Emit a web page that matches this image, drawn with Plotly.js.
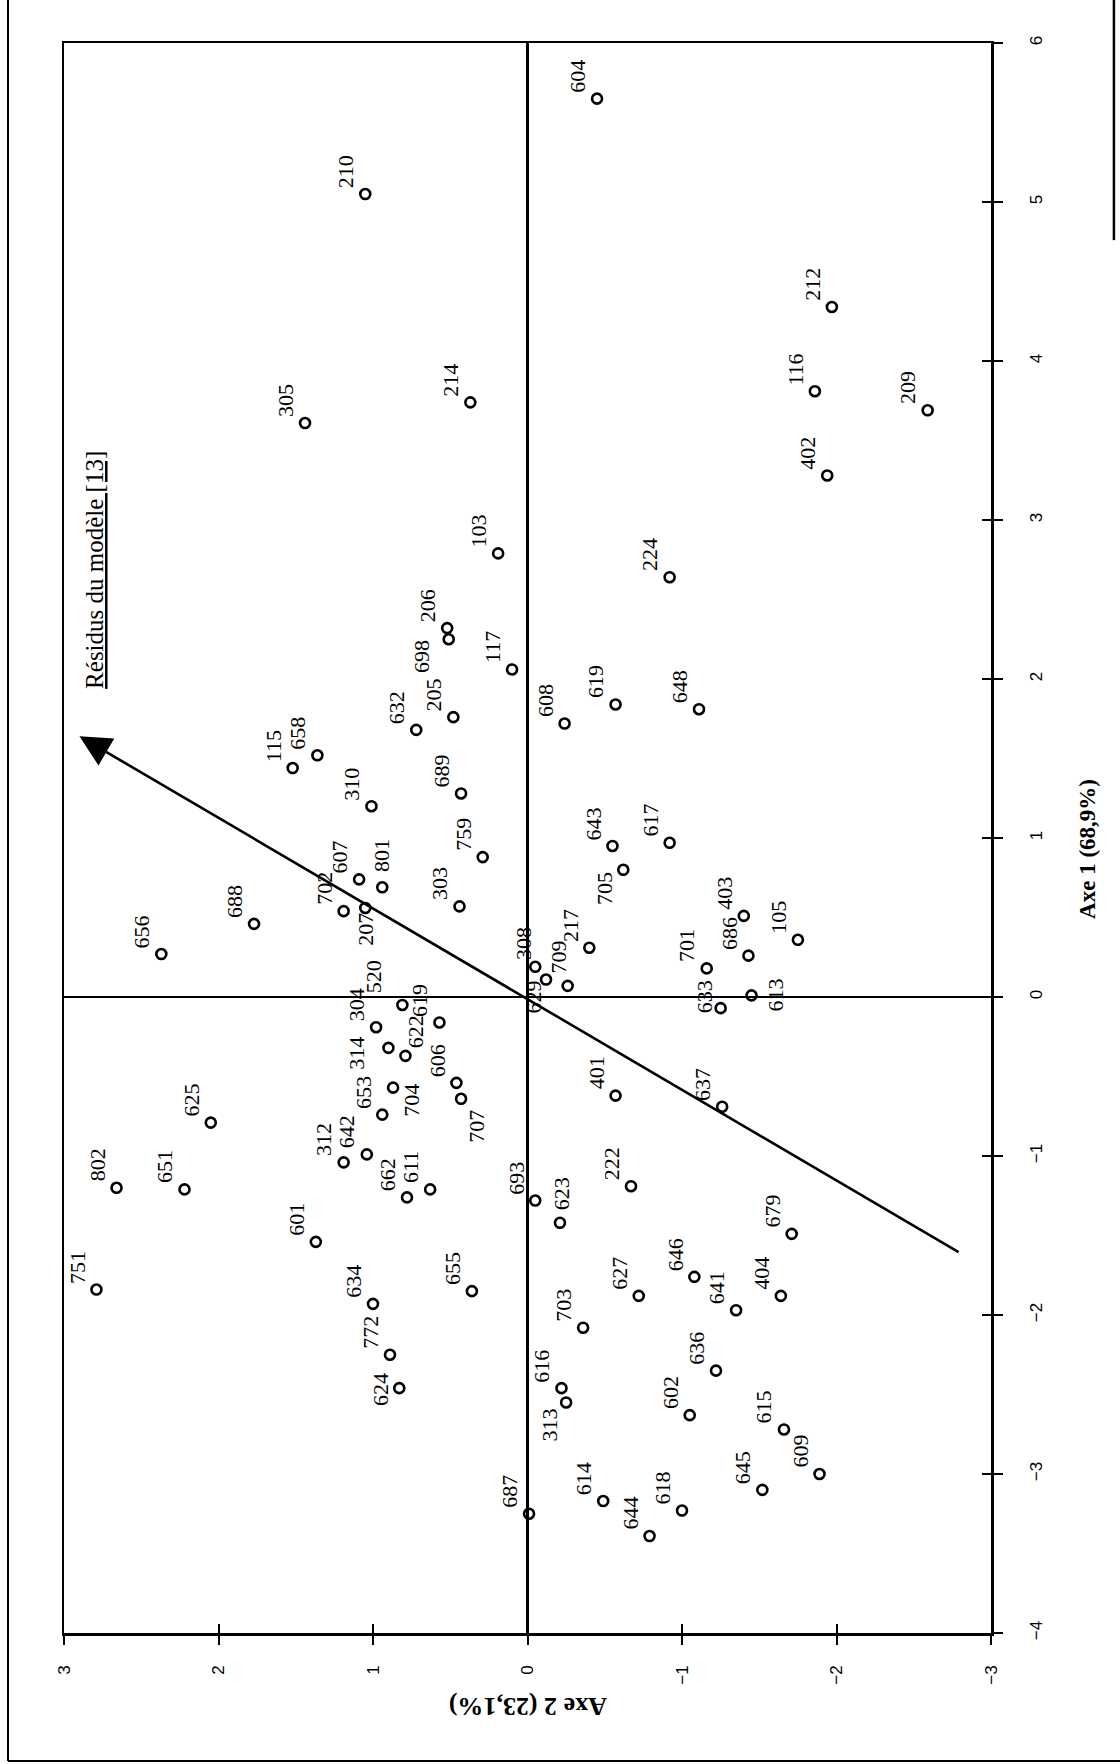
<!DOCTYPE html>
<html>
<head>
<meta charset="utf-8">
<script src="https://cdn.plot.ly/plotly-3.0.1.min.js"></script>
<style>
html,body{margin:0;padding:0;background:#ffffff;}
#chart{width:1120px;height:1764px;}
</style>
</head>
<body>
<div id="chart"></div>
<script>
// ---- data (factor map, Axe 1 vertical / Axe 2 horizontal) ----
const pointLabels = ['604','210','212','116','209','305','214','402','103','224','206','698','117','632','205','608','619','648','115','658','310','689','759','643','617','705','607','801','702','207','303','656','688','403','105','686','217','308','629','709','701','633','613','520','304','619','314','622','606','707','704','653','401','637','625','802','651','312','642','662','611','693','623','222','679','601','751','634','655','646','627','641','404','703','772','624','636','616','313','602','615','609','645','614','687','618','644'];
const axe1Values = [5.65,5.05,4.34,3.81,3.69,3.61,3.74,3.28,2.79,2.64,2.32,2.25,2.06,1.68,1.76,1.72,1.84,1.81,1.44,1.52,1.20,1.28,0.88,0.95,0.97,0.80,0.74,0.69,0.54,0.56,0.57,0.27,0.46,0.51,0.36,0.26,0.31,0.19,0.11,0.07,0.18,-0.07,0.01,-0.05,-0.19,-0.16,-0.32,-0.37,-0.54,-0.64,-0.57,-0.74,-0.62,-0.69,-0.79,-1.20,-1.21,-1.04,-0.99,-1.26,-1.21,-1.28,-1.42,-1.19,-1.49,-1.54,-1.84,-1.93,-1.85,-1.76,-1.88,-1.97,-1.88,-2.08,-2.25,-2.46,-2.35,-2.46,-2.55,-2.63,-2.72,-3.00,-3.10,-3.17,-3.25,-3.23,-3.39];
const axe2Values = [-0.45,1.05,-1.97,-1.86,-2.59,1.44,0.37,-1.94,0.19,-0.92,0.52,0.51,0.10,0.72,0.48,-0.24,-0.57,-1.11,1.52,1.36,1.01,0.43,0.29,-0.55,-0.92,-0.62,1.09,0.94,1.19,1.05,0.44,2.37,1.77,-1.40,-1.75,-1.43,-0.40,-0.05,-0.12,-0.26,-1.16,-1.25,-1.45,0.81,0.98,0.57,0.90,0.79,0.46,0.43,0.87,0.94,-0.57,-1.26,2.05,2.66,2.22,1.19,1.04,0.78,0.63,-0.05,-0.21,-0.67,-1.71,1.37,2.79,1.00,0.36,-1.08,-0.72,-1.35,-1.64,-0.36,0.89,0.83,-1.22,-0.22,-0.25,-1.05,-1.66,-1.89,-1.52,-0.49,-0.01,-1.00,-0.79];
const axe1Ticks = [-4,-3,-2,-1,0,1,2,3,4,5,6];
const axe2Ticks = [-3,-2,-1,0,1,2,3];
const axe1Title = 'Axe 1 (68,9%)';
const axe2Title = 'Axe 2 (23,1%)';
const residualLabel = 'Résidus du modèle [13]';
// supplementary variable vector [axe2, axe1]
const residualFrom = [-2.80, -1.61];
const residualTo = [2.90, 1.64];

// ---- styling ----
const serif = 'Liberation Serif, Times New Roman, serif';
const sans = 'Liberation Sans Narrow, Liberation Sans, Arial, sans-serif';
const defaultPlacement = {xa:'right', ya:'bottom', dx:-5, dy:4};
const placement = {
  '207': {xa:'center', ya:'top', dx:0, dy:-3},
  '613': {xa:'left', ya:'middle', dx:9, dy:0},
  '313': {xa:'right', ya:'top', dx:-2, dy:-4},
  '707': {xa:'left', ya:'top', dx:1, dy:-9},
  '704': {xa:'left', ya:'top', dx:4, dy:6},
  '622': {xa:'left', ya:'bottom', dx:-5, dy:6},
  '314': {xa:'right', ya:'middle', dx:-17, dy:-5},
  '698': {xa:'right', ya:'top', dx:-12, dy:1},
  '629': {xa:'right', ya:'top', dx:1, dy:1},
  '709': {xa:'right', ya:'bottom', dx:5, dy:10},
  '308': {xa:'right', ya:'bottom', dx:3, dy:5},
  '623': {xa:'center', ya:'bottom', dx:1, dy:11},
  '801': {xa:'center', ya:'bottom', dx:0, dy:13},
  '705': {xa:'right', ya:'top', dx:-4, dy:0},
  '520': {xa:'right', ya:'bottom', dx:-14, dy:10},
  '624': {xa:'right', ya:'middle', dx:-5, dy:-1},
  '633': {xa:'right', ya:'middle', dx:-2, dy:11}
};

const pointTrace = {
  type:'scatter', mode:'markers',
  x: axe2Values, y: axe1Values, text: pointLabels,
  marker:{symbol:'circle-open', size:10, color:'#000', line:{width:2.6, color:'#000'}},
  hoverinfo:'text', showlegend:false, cliponaxis:false
};
const tickTrace = {type:'scatter', mode:'markers', x:[], y:[], xaxis:'x2', yaxis:'y2', showlegend:false, hoverinfo:'skip'};

const annotations = pointLabels.map((lab, i) => {
  const p = placement[lab] || defaultPlacement;
  return {
    x: axe2Values[i], y: axe1Values[i], xref:'x', yref:'y',
    text: lab, showarrow:false, textangle:-90,
    xanchor:p.xa, yanchor:p.ya, xshift:p.dx, yshift:p.dy,
    font:{family:serif, size:22, color:'#000'}
  };
});

annotations.push({
  x: residualTo[0], y: residualTo[1], ax: residualFrom[0], ay: residualFrom[1],
  xref:'x', yref:'y', axref:'x', ayref:'y', text:'', showarrow:true,
  arrowhead:2, arrowsize:2.4, arrowwidth:2.6, arrowcolor:'#000', standoff:0, startstandoff:0
});
annotations.push({
  xref:'paper', yref:'paper', x:0.0334, y:0.6686, text:'<u>' + residualLabel + '</u>',
  showarrow:false, textangle:-90, xanchor:'center', yanchor:'middle',
  font:{family:serif, size:25, color:'#000'}
});
annotations.push({
  xref:'paper', yref:'paper', x:1.1046, y:0.4931, text:'<b>' + axe1Title + '</b>',
  showarrow:false, textangle:-90, xanchor:'center', yanchor:'middle',
  font:{family:serif, size:23, color:'#000'}
});
annotations.push({
  xref:'paper', yref:'paper', x:0.5005, y:-0.0459, text:'<b>' + axe2Title + '</b>',
  showarrow:false, textangle:180, xanchor:'center', yanchor:'middle',
  font:{family:serif, size:26, color:'#000'}
});

const axisCommon = {
  showgrid:false, showline:true, linecolor:'#000', linewidth:2.5, mirror:true,
  ticks:'outside', ticklen:9, tickwidth:2, tickcolor:'#000',
  zeroline:true, zerolinecolor:'#000', zerolinewidth:2.5,
  tickangle:-90, tickfont:{family:sans, size:17, color:'#000'}
};

const layout = {
  width:1120, height:1764,
  margin:{l:64, r:129, t:43, b:131, pad:0},
  paper_bgcolor:'#fff', plot_bgcolor:'#fff',
  showlegend:false,
  xaxis: Object.assign({}, axisCommon, {
    range:[3,-3], autorange:false, tickmode:'array', tickvals:axe2Ticks,
    ticklabelstandoff:14
  }),
  yaxis: Object.assign({}, axisCommon, {
    side:'right', range:[-4,6], autorange:false, tickmode:'array', tickvals:axe1Ticks,
    ticklabelstandoff:19
  }),
  xaxis2: {overlaying:'x', anchor:'y2', range:[3,-3], autorange:false, tickmode:'array', tickvals:axe2Ticks,
    ticks:'inside', ticklen:9, tickwidth:2, tickcolor:'#000', showticklabels:false,
    showline:false, showgrid:false, zeroline:false},
  yaxis2: {overlaying:'y', anchor:'x2', side:'right', range:[-4,6], autorange:false, tickmode:'array', tickvals:axe1Ticks,
    ticks:'inside', ticklen:9, tickwidth:2, tickcolor:'#000', showticklabels:false,
    showline:false, showgrid:false, zeroline:false},
  annotations: annotations,
  shapes: [
    {type:'line', xref:'paper', yref:'paper', x0:-0.0604, x1:-0.0604, y0:1.03, y1:-0.0805, line:{color:'#000', width:2}},
    {type:'line', xref:'paper', yref:'paper', x0:-0.0604, x1:1.14, y0:-0.0805, y1:-0.0805, line:{color:'#000', width:2}},
    {type:'line', xref:'paper', yref:'paper', x0:1.1326, x1:1.1326, y0:1.03, y1:0.876, line:{color:'#000', width:2.5}}
  ]
};

Plotly.newPlot('chart', [pointTrace, tickTrace], layout, {displayModeBar:false, staticPlot:true});
</script>
</body>
</html>
